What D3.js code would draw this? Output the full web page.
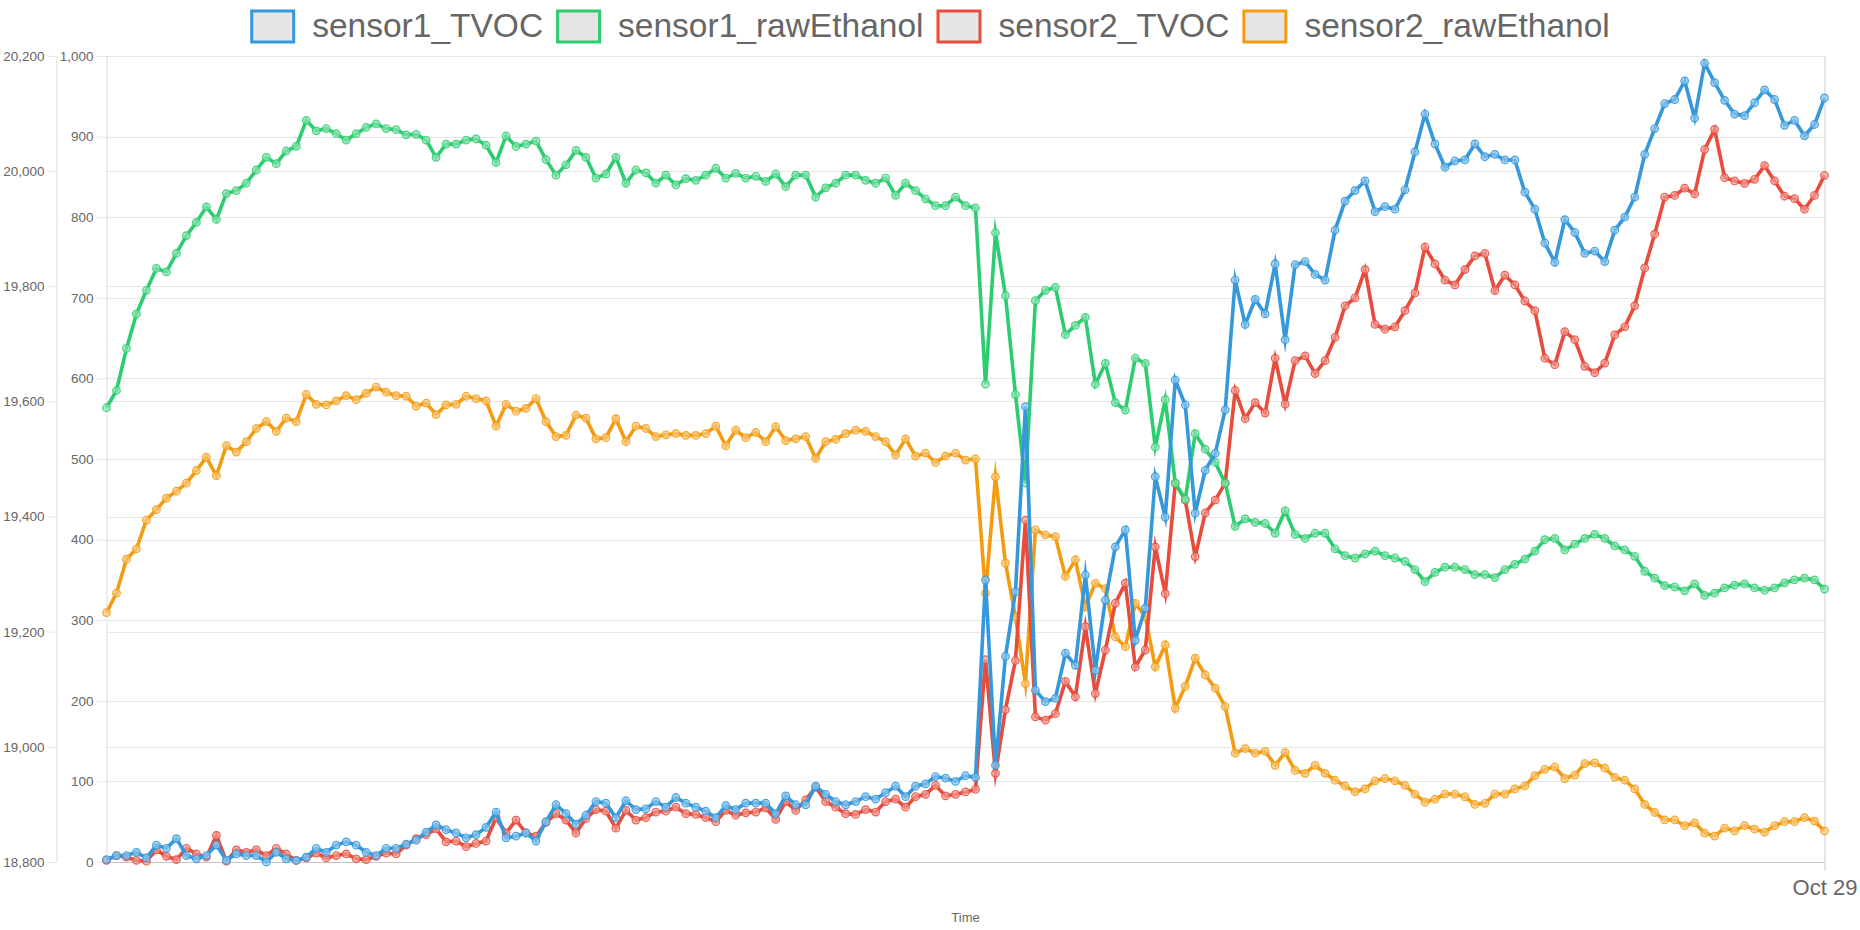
<!DOCTYPE html>
<html>
<head>
<meta charset="utf-8">
<script src="https://cdn.jsdelivr.net/npm/d3@7"></script>
<style>
  body { margin: 0; background: #fff; }
  svg text { font-family: "Liberation Sans", Arial, Helvetica, sans-serif; fill: #666; }
</style>
</head>
<body>
<svg id="chart" width="1860" height="930"></svg>
<script>
'use strict';

// ---- data ----
const seriesNames  = ['sensor1_TVOC', 'sensor1_rawEthanol', 'sensor2_TVOC', 'sensor2_rawEthanol'];
const seriesColors = ['#3498db', '#2ecc71', '#e74c3c', '#f39c12'];
const seriesAxis   = ['tvoc', 'ethanol', 'tvoc', 'ethanol'];

const sensor1TVOC = [
  3, 8, 8, 12, 5, 21, 17, 29, 8, 4, 8, 21, 2, 10, 8, 8, 0, 12, 4, 2, 6, 17, 12, 21, 25, 21, 12, 8, 17, 17,
  22, 27, 37, 46, 40, 36, 30, 34, 43, 62, 30, 32, 36, 26, 50, 71, 60, 47, 58, 75, 73, 55, 76, 65, 66, 75, 68, 80, 73,
  68, 63, 55, 70, 65, 73, 73, 73, 60, 82, 71, 71, 94, 84, 75, 71, 75, 81, 78, 86, 94, 81, 94, 97, 106, 104, 100, 107, 105,
  350, 120, 255, 335, 565, 213, 199, 203, 259, 244, 356, 238, 325, 391, 412, 275, 315, 478, 428, 598, 567, 433, 486, 507, 561, 722, 667, 698, 680,
  742, 648, 741, 745, 729, 722, 784, 820, 833, 845, 807, 813, 810, 834, 881, 928, 891, 862, 870, 871, 891, 875, 878, 871, 871, 831, 810, 768, 744,
  797, 781, 755, 758, 745, 784, 800, 825, 878, 910, 941, 946, 969, 923, 991, 967, 945, 928, 926, 942, 958, 946, 914, 920, 901, 915, 948
];
const sensor1Ethanol = [
  19589, 19619, 19692, 19752, 19793, 19831, 19825, 19857, 19888, 19911, 19938, 19916, 19961, 19966, 19979, 20002, 20024, 20013, 20035, 20043, 20088, 20070, 20074, 20065, 20054, 20065, 20076, 20082, 20074, 20072,
  20063, 20064, 20054, 20024, 20047, 20047, 20054, 20056, 20045, 20015, 20061, 20043, 20047, 20052, 20020, 19993, 20011, 20036, 20024, 19988, 19995, 20024, 19979, 20002, 19997, 19979, 19993, 19976, 19987,
  19984, 19993, 20005, 19988, 19996, 19988, 19991, 19982, 19995, 19973, 19993, 19993, 19955, 19971, 19979, 19993, 19993, 19984, 19979, 19988, 19958, 19979, 19966, 19952, 19940, 19940, 19955, 19940, 19936,
  19630, 19893, 19784, 19612, 19458, 19775, 19793, 19798, 19716, 19732, 19746, 19630, 19666, 19598, 19585, 19675, 19666, 19521, 19603, 19458, 19430, 19544, 19517, 19494, 19458, 19383, 19396, 19390, 19388,
  19371, 19410, 19369, 19362, 19371, 19371, 19344, 19332, 19328, 19335, 19340, 19332, 19328, 19322, 19308, 19287, 19303, 19312, 19312, 19308, 19299, 19299, 19294, 19308, 19317, 19326, 19340, 19360, 19362,
  19342, 19352, 19362, 19369, 19362, 19349, 19342, 19331, 19305, 19293, 19280, 19278, 19271, 19283, 19263, 19267, 19276, 19281, 19283, 19276, 19272, 19276, 19285, 19290, 19293, 19290, 19274
];
const sensor2TVOC = [
  2, 8, 6, 2, 1, 15, 7, 3, 17, 10, 6, 33, 1, 15, 12, 15, 8, 17, 10, 2, 5, 11, 5, 8, 10, 4, 3, 7, 11, 10,
  21, 29, 34, 41, 25, 26, 19, 23, 26, 55, 36, 52, 36, 32, 49, 60, 52, 36, 54, 65, 63, 42, 64, 52, 55, 62, 63, 68, 60,
  59, 55, 50, 64, 58, 61, 62, 67, 53, 75, 64, 77, 93, 75, 68, 60, 59, 65, 62, 75, 78, 68, 81, 84, 95, 82, 84, 87, 90,
  251, 110, 189, 250, 424, 180, 176, 184, 224, 205, 292, 209, 263, 321, 346, 242, 263, 391, 333, 470, 449, 379, 433, 449, 470, 585, 550, 570, 557,
  625, 568, 622, 628, 606, 622, 651, 690, 700, 735, 667, 661, 664, 684, 706, 763, 742, 722, 716, 735, 752, 755, 709, 728, 716, 696, 684, 625, 617,
  658, 648, 615, 607, 619, 654, 664, 690, 737, 779, 825, 827, 836, 829, 884, 909, 849, 845, 842, 847, 864, 845, 826, 823, 810, 827, 852
];
const sensor2Ethanol = [
  19233, 19267, 19326, 19344, 19394, 19412, 19432, 19444, 19458, 19480, 19503, 19471, 19523, 19512, 19530, 19553, 19565, 19548, 19571, 19565, 19612, 19595, 19594, 19601, 19610, 19603, 19614, 19625, 19616, 19610,
  19609, 19592, 19597, 19577, 19594, 19595, 19609, 19605, 19601, 19557, 19595, 19583, 19588, 19605, 19565, 19539, 19541, 19576, 19571, 19535, 19537, 19570, 19530, 19557, 19553, 19539, 19542, 19544, 19541,
  19541, 19544, 19557, 19523, 19550, 19537, 19546, 19530, 19556, 19532, 19535, 19539, 19501, 19530, 19534, 19544, 19550, 19548, 19539, 19530, 19507, 19535, 19505, 19510, 19494, 19505, 19510, 19498, 19500,
  19267, 19469, 19319, 19226, 19110, 19377, 19368, 19365, 19296, 19325, 19243, 19284, 19275, 19191, 19174, 19249, 19226, 19139, 19177, 19067, 19105, 19154, 19125, 19102, 19070, 18989, 18997, 18989, 18992,
  18968, 18990, 18959, 18954, 18968, 18954, 18942, 18932, 18922, 18927, 18941, 18945, 18941, 18933, 18918, 18904, 18909, 18918, 18918, 18913, 18900, 18902, 18918, 18918, 18927, 18932, 18950, 18961, 18965,
  18945, 18951, 18971, 18972, 18963, 18947, 18942, 18927, 18900, 18886, 18873, 18873, 18863, 18868, 18850, 18845, 18859, 18854, 18863, 18857, 18852, 18863, 18870, 18870, 18877, 18871, 18854
];
const seriesValues = [sensor1TVOC, sensor1Ethanol, sensor2TVOC, sensor2Ethanol];

// readings are evenly spaced in time and end at midnight, Oct 29
const startTime = new Date(2019, 9, 28, 15, 0);
const endTime   = new Date(2019, 9, 29, 0, 0);
const timeStep  = (endTime - startTime) / (sensor1TVOC.length - 1);
const times     = sensor1TVOC.map((d, i) => new Date(+startTime + i * timeStep));

const tvocTicks    = d3.range(0, 1001, 100);
const ethanolTicks = d3.range(18800, 20201, 200);

// ---- layout ----
const width  = 1860;
const height = 930;
const plotLeft   = 106.5;
const plotRight  = 1824.5;
const plotTop    = 56;
const plotBottom = 862;
const outerAxisX = 56.5;
const gridColor  = '#e6e6e6';

const svg = d3.select('#chart');
svg.append('rect').attr('width', width).attr('height', height).attr('fill', '#fff');

const x = d3.scaleTime().domain([startTime, endTime]).range([plotLeft, plotRight]);
const yTvoc = d3.scaleLinear().domain([0, 1000]).range([plotBottom, plotTop]);
const yEthanol = d3.scaleLinear().domain([18800, 20200]).range([plotBottom, plotTop]);
const yFor = { tvoc: yTvoc, ethanol: yEthanol };

// grid lines (ethanol first, then tvoc)
const grid = svg.append('g');
grid.selectAll('line.ge')
    .data(ethanolTicks)
    .enter().append('line')
    .attr('class', 'ge')
    .attr('x1', plotLeft).attr('x2', plotRight)
    .attr('y1', d => Math.round(yEthanol(d)) + 0.5)
    .attr('y2', d => Math.round(yEthanol(d)) + 0.5)
    .attr('stroke', gridColor);
grid.selectAll('line.gt')
    .data(tvocTicks)
    .enter().append('line')
    .attr('class', 'gt')
    .attr('x1', plotLeft).attr('x2', plotRight)
    .attr('y1', d => Math.round(yTvoc(d)) + 0.5)
    .attr('y2', d => Math.round(yTvoc(d)) + 0.5)
    .attr('stroke', gridColor);

// outer axis : raw ethanol
const ethAxis = svg.append('g')
    .attr('transform', `translate(${outerAxisX},0)`)
    .call(d3.axisLeft(yEthanol).tickValues(ethanolTicks).tickFormat(d3.format(',')).tickSize(8).tickSizeOuter(0).tickPadding(4));
// inner axis : TVOC
const tvocAxis = svg.append('g')
    .attr('transform', `translate(${plotLeft},0)`)
    .call(d3.axisLeft(yTvoc).tickValues(tvocTicks).tickFormat(d3.format(',')).tickSize(9.5).tickSizeOuter(0).tickPadding(3.5));

[ethAxis, tvocAxis].forEach(g => {
    g.select('.domain').attr('stroke', '#dcdcdc');
    g.selectAll('.tick line').attr('stroke', gridColor);
    g.selectAll('.tick text').attr('fill', '#666').style('font-size', '13.5px');
    g.attr('font-family', null);
});

// x axis
const xAxis = svg.append('g')
    .attr('transform', `translate(0,${plotBottom})`)
    .call(d3.axisBottom(x).ticks(d3.timeDay.every(1)).tickFormat(d3.timeFormat('%b %d')).tickSize(9).tickSizeOuter(0).tickPadding(8.5));
xAxis.select('.domain').attr('stroke', '#c4c4c4');
xAxis.selectAll('.tick line').attr('stroke', '#cccccc').attr('y1', plotTop - plotBottom);
xAxis.selectAll('.tick text').attr('fill', '#666').style('font-size', '22px');
xAxis.attr('font-family', null);

svg.append('text')
    .attr('x', (plotLeft + plotRight) / 2)
    .attr('y', 922)
    .attr('text-anchor', 'middle')
    .style('font-size', '13px')
    .text('Time');

// ---- series (first dataset drawn last so it sits on top) ----
const plot = svg.append('g');
const order = [3, 2, 1, 0];
order.forEach(si => {
    const y = yFor[seriesAxis[si]];
    const color = seriesColors[si];
    const pts = seriesValues[si].map((v, i) => ({ t: times[i], v: v }));
    const line = d3.line().x(d => x(d.t)).y(d => y(d.v));
    const g = plot.append('g');
    g.append('path')
        .datum(pts)
        .attr('d', line)
        .attr('fill', 'none')
        .attr('stroke', color)
        .attr('stroke-width', 3.6)
        .attr('stroke-linejoin', 'miter')
        .attr('stroke-miterlimit', 10);
    g.selectAll('circle')
        .data(pts)
        .enter().append('circle')
        .attr('cx', d => x(d.t))
        .attr('cy', d => y(d.v))
        .attr('r', 3.8)
        .attr('fill', d3.interpolateRgb(color, '#ffffff')(0.45))
        .attr('fill-opacity', 0.7)
        .attr('stroke', color)
        .attr('stroke-opacity', 0.85)
        .attr('stroke-width', 1.2);
});

// ---- legend ----
const legendFont = 33.5;
const boxW = 45, boxH = 34, boxGap = 17, itemGap = 13;
const legend = svg.append('g');
const measure = legend.append('text').style('font-size', legendFont + 'px');
const textWidths = seriesNames.map(n => { measure.text(n); return measure.node().getComputedTextLength(); });
measure.remove();
const totalW = d3.sum(textWidths) + seriesNames.length * (boxW + boxGap) + itemGap * (seriesNames.length - 1);
let lx = width / 2 - totalW / 2;
seriesNames.forEach((name, i) => {
    legend.append('rect')
        .attr('x', lx + 1.5).attr('y', 11)
        .attr('width', boxW - 3).attr('height', boxH - 3)
        .attr('fill', '#e5e5e5')
        .attr('stroke', seriesColors[i])
        .attr('stroke-width', 3);
    legend.append('text')
        .attr('x', lx + boxW + boxGap)
        .attr('y', 37)
        .style('font-size', legendFont + 'px')
        .text(name);
    lx += boxW + boxGap + textWidths[i] + itemGap;
});
</script>
</body>
</html>
